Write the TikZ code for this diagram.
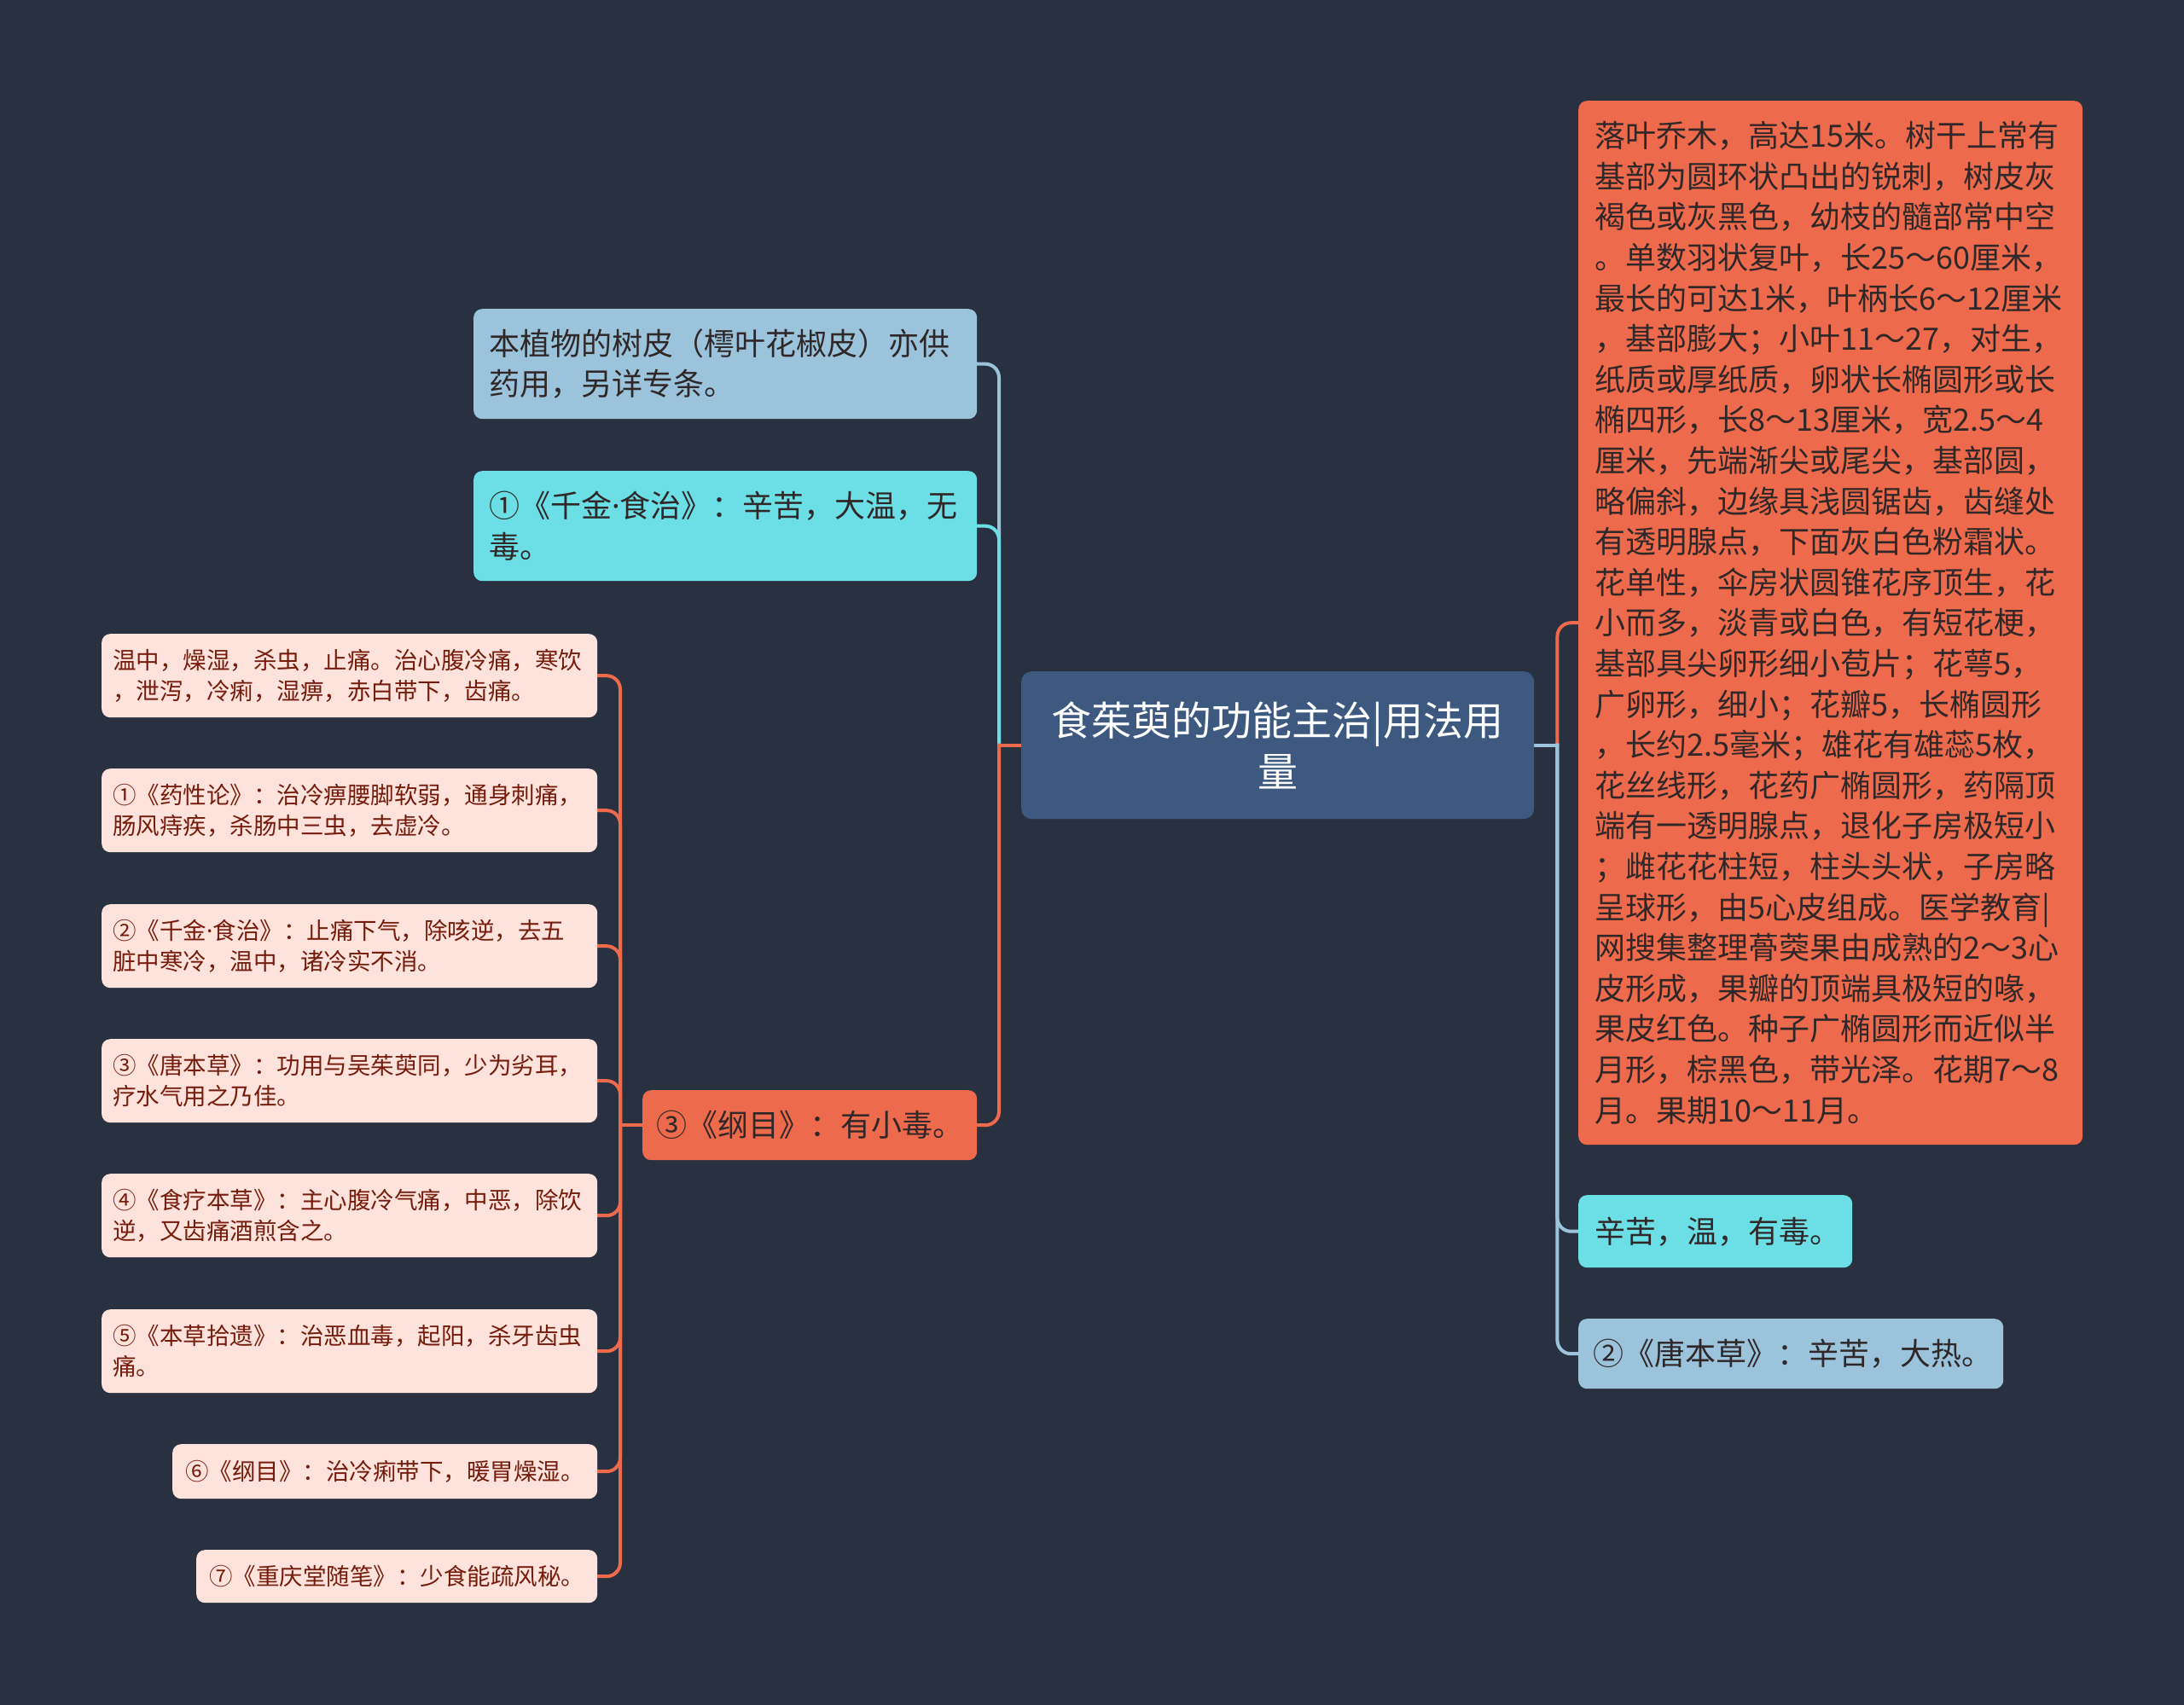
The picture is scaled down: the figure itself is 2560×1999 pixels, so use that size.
\documentclass[tikz,border=0pt]{standalone}
\usepackage{fontspec}
\setmainfont{Noto Sans CJK SC}
\newfontfamily\latf{Noto Sans}
\newcommand{\mdot}{{\latf ·}}
\usetikzlibrary{backgrounds}
\definecolor{bgc}{RGB}{41,49,64}
\definecolor{rootc}{RGB}{61,89,128}
\definecolor{orc}{RGB}{238,106,76}
\definecolor{cyc}{RGB}{108,222,229}
\definecolor{lbc}{RGB}{155,195,219}
\definecolor{pkc}{RGB}{253,227,220}
\definecolor{pktext}{RGB}{118,28,12}
\definecolor{dtext}{RGB}{48,40,40}
\tikzset{
  box/.style={rounded corners=10, anchor=north west, inner ysep=0pt, align=left},
  bigf/.style={font=\fontsize{36}{47.6}\selectfont},
  pkf/.style={font=\fontsize{27.5}{36}\selectfont},
  pinkbox/.style={box, pkf, fill=pkc, text=pktext, inner xsep=13pt},
  conn/.style={line width=4pt, line cap=rect},
  branch/.style={conn, rounded corners=16}
}
\begin{document}
\begin{tikzpicture}[x=1pt,y=-1pt]
\begin{pgfonlayer}{background}
\fill[bgc] (0,0) rectangle (2560,1999);
\end{pgfonlayer}
\useasboundingbox (0,0) rectangle (2560,1999);

% root
\node[box, rounded corners=12, fill=rootc, text=white, align=center,
  font=\fontsize{47}{60}\selectfont, inner xsep=20pt, text width=561pt,
  minimum height=173pt] (root) at (1197,787) {食茱萸的功能主治|用法用\\量};

% right side
\node[box, bigf, fill=orc, text=dtext, inner xsep=19pt, text width=553pt,
  minimum height=1224pt] (R1) at (1850,118) {落叶乔木，高达15米。树干上常有\\
基部为圆环状凸出的锐刺，树皮灰\\
褐色或灰黑色，幼枝的髓部常中空\\
。单数羽状复叶，长25～60厘米，\\
最长的可达1米，叶柄长6～12厘米\\
，基部膨大；小叶11～27，对生，\\
纸质或厚纸质，卵状长椭圆形或长\\
椭四形，长8～13厘米，宽2.5～4\\
厘米，先端渐尖或尾尖，基部圆，\\
略偏斜，边缘具浅圆锯齿，齿缝处\\
有透明腺点，下面灰白色粉霜状。\\
花单性，伞房状圆锥花序顶生，花\\
小而多，淡青或白色，有短花梗，\\
基部具尖卵形细小苞片；花萼5，\\
广卵形，细小；花瓣5，长椭圆形\\
，长约2.5毫米；雄花有雄蕊5枚，\\
花丝线形，花药广椭圆形，药隔顶\\
端有一透明腺点，退化子房极短小\\
；雌花花柱短，柱头头状，子房略\\
呈球形，由5心皮组成。医学教育|\\
网搜集整理蓇葖果由成熟的2～3心\\
皮形成，果瓣的顶端具极短的喙，\\
果皮红色。种子广椭圆形而近似半\\
月形，棕黑色，带光泽。花期7～8\\
月。果期10～11月。};
\node[box, bigf, fill=cyc, text=dtext, inner xsep=19pt, text width=283pt,
  minimum height=85pt] (R2) at (1850,1401) {辛苦，温，有毒。};
\node[box, bigf, fill=lbc, text=dtext, inner xsep=17pt, text width=464pt,
  minimum height=82pt] (R3) at (1850,1546) {②《唐本草》：辛苦，大热。};

% left side
\node[box, bigf, fill=lbc, text=dtext, inner xsep=18pt, text width=554pt,
  minimum height=129pt] (L1) at (555,362) {本植物的树皮（樗叶花椒皮）亦供\\药用，另详专条。};
\node[box, bigf, fill=cyc, text=dtext, inner xsep=18pt, text width=554pt,
  minimum height=129pt] (L2) at (555,552) {①《千金\mdot 食治》：辛苦，大温，无\\毒。};
\node[box, bigf, fill=orc, text=dtext, inner xsep=16pt, text width=360pt,
  minimum height=82pt] (L3) at (753,1278) {③《纲目》：有小毒。};

% pink leaves
\node[pinkbox, text width=555pt, minimum height=98pt] (P1) at (119,743)
  {温中，燥湿，杀虫，止痛。治心腹冷痛，寒饮\\，泄泻，冷痢，湿痹，赤白带下，齿痛。};
\node[pinkbox, text width=555pt, minimum height=98pt] (P2) at (119,901)
  {①《药性论》：治冷痹腰脚软弱，通身刺痛，\\肠风痔疾，杀肠中三虫，去虚冷。};
\node[pinkbox, text width=555pt, minimum height=98pt] (P3) at (119,1060)
  {②《千金\mdot 食治》：止痛下气，除咳逆，去五\\脏中寒冷，温中，诸冷实不消。};
\node[pinkbox, text width=555pt, minimum height=98pt] (P4) at (119,1218)
  {③《唐本草》：功用与吴茱萸同，少为劣耳，\\疗水气用之乃佳。};
\node[pinkbox, text width=555pt, minimum height=98pt] (P5) at (119,1376)
  {④《食疗本草》：主心腹冷气痛，中恶，除饮\\逆，又齿痛酒煎含之。};
\node[pinkbox, text width=555pt, minimum height=98pt] (P6) at (119,1535)
  {⑤《本草拾遗》：治恶血毒，起阳，杀牙齿虫\\痛。};
\node[pinkbox, inner xsep=15pt, text width=468pt, minimum height=64pt] (P7) at (202,1693)
  {⑥《纲目》：治冷痢带下，暖胃燥湿。};
\node[pinkbox, inner xsep=15pt, text width=440pt, minimum height=62pt] (P8) at (230,1817)
  {⑦《重庆堂随笔》：少食能疏风秘。};

% junction points
\path (root.west) ++(-26,0) coordinate (jl);
\path (root.east) ++(27,0) coordinate (jr);
\path (L3.west) ++(-26,0) coordinate (jp);

\begin{pgfonlayer}{background}
% left of root
\draw[branch, lbc] (jl) |- (L1.east);
\draw[branch, cyc] (jl) |- (L2.east);
\draw[branch, orc] (jl) |- (L3.east);
\draw[conn, orc] (root.west) -- (jl);
% right of root
\draw[branch, orc] (jr) |- (R1.west);
\draw[branch, lbc] (jr) |- (R2.west);
\draw[branch, lbc] (jr) |- (R3.west);
\draw[conn, lbc] (root.east) -- (jr);
% pink leaves
\foreach \p in {P1,P2,P3,P4,P5,P6,P7,P8}{
  \draw[branch, orc] (jp) |- (\p.east);
}
\draw[conn, orc] (L3.west) -- (jp);
\end{pgfonlayer}
\end{tikzpicture}
\end{document}
